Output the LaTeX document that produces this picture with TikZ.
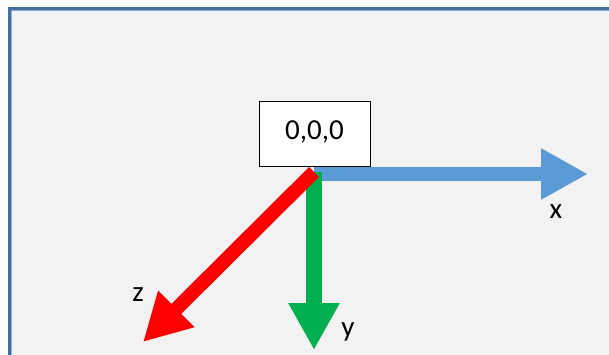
\documentclass[tikz,border=0pt]{standalone}
\usepackage{fontspec}
\setmainfont{Carlito}
\usetikzlibrary{arrows.meta}
\definecolor{framedark}{HTML}{41719C}
\definecolor{framelight}{HTML}{8FAADC}
\definecolor{panel}{HTML}{F2F2F2}
\definecolor{axisx}{HTML}{5B9BD5}
\definecolor{axisy}{HTML}{00B050}
\definecolor{axisz}{HTML}{FF0000}
\tikzset{
  axisarrow/.style={line width=#1, line cap=butt, -{Triangle[length=47bp,width=48bp]}},
  lbl/.style={font=\fontsize{29bp}{35bp}\selectfont, inner sep=0pt, anchor=base},
  originbox/.style={draw=black, line width=1bp, fill=white, minimum width=111bp, minimum height=65bp, inner sep=0pt}
}
\begin{document}
\begin{tikzpicture}[x=1bp,y=-1bp]
\useasboundingbox (0,0) rectangle (609,354);
\clip (0,0) rectangle (609,354);
\fill[white] (0,0) rectangle (609,354);
\fill[panel] (8,7) rectangle (640,380);
\draw[framedark, line width=3bp] (9,8.5) rectangle (640,380);
\draw[framelight, line width=1bp] (11,10.5) rectangle (640,380);
% origin box
\node[originbox] (box) at (314.5,133.5) {};
\node[lbl] (boxtext) at (314.5,139) {0,0,0};
% axes
\coordinate (ox) at (314,174);
\coordinate (xend) at (588,174);
\coordinate (oy) at (314,172);
\coordinate (yend) at (314,350);
\coordinate (oz) at (314,172);
\coordinate (zend) at (143,342);
\draw[axisarrow=14bp, axisx] (ox) -- (xend);
\draw[axisarrow=16bp, axisy] (oy) -- (yend);
\draw[axisarrow=14bp, axisz] (oz) -- (zend);
% labels
\node[lbl] (xl) at (556,218) {x};
\node[lbl] (yl) at (348,336) {y};
\node[lbl] (zl) at (138,301) {z};
\end{tikzpicture}
\end{document}
